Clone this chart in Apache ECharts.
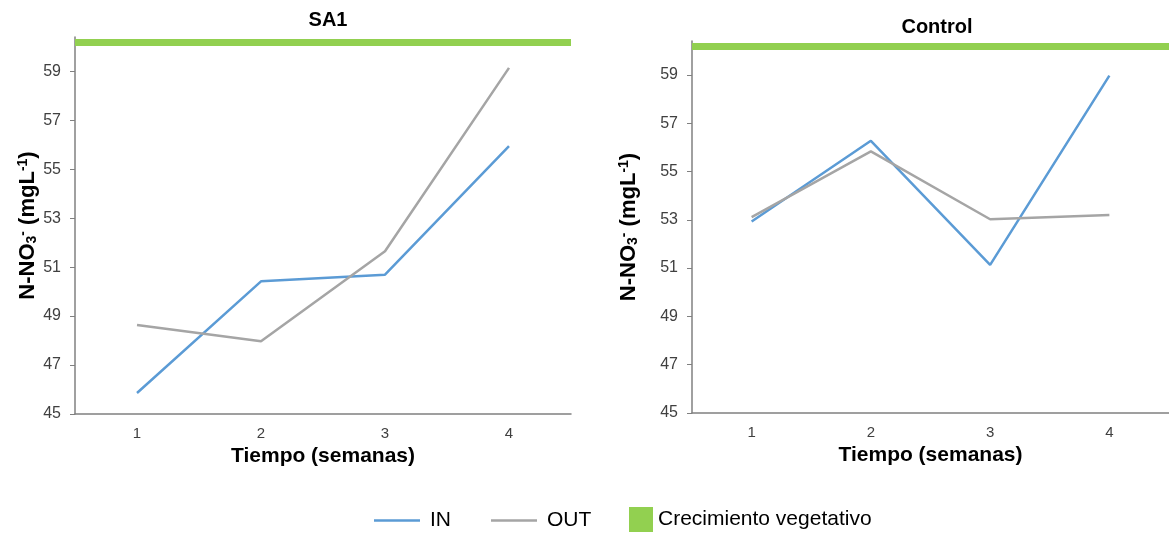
<!DOCTYPE html>
<html>
<head>
<meta charset="utf-8">
<script src="https://cdn.jsdelivr.net/npm/echarts@6/dist/echarts.min.js"></script>
<style>
  html, body { margin: 0; padding: 0; background: #fff; }
  #chart { width: 1169px; height: 537px; }
</style>
</head>
<body>
<div id="chart"></div>
<script>
  // weeks on the x axis
  var weeks = ['1', '2', '3', '4']
  // y ticks shown in the picture
  var yTicks = [45, 47, 49, 51, 53, 55, 57, 59]

  // SA1
  var sa1In = [45.86, 50.42, 50.69, 55.94]
  var sa1Out = [48.64, 47.97, 51.65, 59.14]
  // Control
  var ctrlIn = [52.93, 56.27, 51.13, 58.97]
  var ctrlOut = [53.11, 55.83, 53.02, 53.2]

  // vegetative growth phase marker, drawn at the top of each plot
  var phaseLevel = 60.2

  var blue = '#5b9bd5'
  var grey = '#a5a5a5'
  var green = '#92d050'
  var font = 'Liberation Sans, Arial, sans-serif'

  var chart = echarts.init(document.getElementById('chart'))

  var yName = '{b|N-NO}{sub|3}{sup|-}{b| (mgL}{sup|-1}{b|)}'
  var yRich = {
    b: { fontSize: 22, fontWeight: 'bold', color: '#000', fontFamily: font },
    sub: { fontSize: 14, fontWeight: 'bold', color: '#000', fontFamily: font, verticalAlign: 'bottom', padding: [9, 0, 0, 0] },
    sup: { fontSize: 14, fontWeight: 'bold', color: '#000', fontFamily: font, verticalAlign: 'top', padding: [0, 0, 9, 0] }
  }

  function xAxis(idx) {
    return {
      type: 'category',
      gridIndex: idx,
      data: weeks,
      boundaryGap: true,
      name: 'Tiempo (semanas)',
      nameLocation: 'middle',
      nameGap: 23,
      nameTextStyle: { fontSize: 21, fontWeight: 'bold', color: '#000', fontFamily: font },
      axisLine: { lineStyle: { color: '#808080', width: 1.5 } },
      axisTick: { alignWithLabel: true, inside: true, length: 4, lineStyle: { color: '#808080' } },
      axisLabel: { fontSize: 15, color: '#404040', margin: 12, fontFamily: font },
      splitLine: { show: false }
    }
  }

  function yAxis(idx, gap) {
    return {
      type: 'value',
      gridIndex: idx,
      min: 45,
      max: 60.4,
      name: yName,
      nameLocation: 'middle',
      nameGap: gap,
      nameRotate: 90,
      nameTextStyle: { rich: yRich },
      axisLine: { show: true, lineStyle: { color: '#808080', width: 1.5 } },
      axisTick: { show: true, length: 5, customValues: yTicks, lineStyle: { color: '#808080' } },
      axisLabel: { fontSize: 16, color: '#404040', margin: 14, customValues: yTicks, fontFamily: font },
      splitLine: { show: false }
    }
  }

  function lineSeries(name, idx, data, color) {
    return {
      name: name,
      type: 'line',
      xAxisIndex: idx,
      yAxisIndex: idx,
      data: data,
      symbol: 'none',
      color: color,
      lineStyle: { color: color, width: 2.5 }
    }
  }

  function phaseSeries(idx) {
    return {
      name: 'Crecimiento vegetativo',
      type: 'line',
      xAxisIndex: idx,
      yAxisIndex: idx,
      data: [],
      color: green,
      itemStyle: { color: green },
      markLine: {
        silent: true,
        symbol: ['none', 'none'],
        label: { show: false },
        lineStyle: { color: green, width: 7, type: 'solid' },
        data: [{ yAxis: phaseLevel }]
      }
    }
  }

  chart.setOption({
    animation: false,
    title: [
      { text: 'SA1', left: 323, top: 5, textAlign: 'center',
        textStyle: { fontSize: 20, fontWeight: 'bold', color: '#000', fontFamily: font } },
      { text: 'Control', left: 932, top: 12, textAlign: 'center',
        textStyle: { fontSize: 20, fontWeight: 'bold', color: '#000', fontFamily: font } }
    ],
    legend: [
      {
        data: [
          { name: 'IN', icon: 'rect', itemStyle: { color: blue } },
          { name: 'OUT', icon: 'rect', itemStyle: { color: grey } }
        ],
        left: 374,
        top: 510,
        padding: 0,
        itemWidth: 46,
        itemHeight: 2.5,
        itemGap: 40,
        textStyle: { fontSize: 21, color: '#000', fontFamily: font, padding: [0, 0, 0, 5] }
      },
      {
        data: [{ name: 'Crecimiento vegetativo', icon: 'rect', itemStyle: { color: green } }],
        left: 629,
        top: 507,
        padding: 0,
        itemWidth: 24,
        itemHeight: 25,
        textStyle: { fontSize: 21, color: '#000', fontFamily: font }
      }
    ],
    grid: [
      { left: 75, top: 37, width: 496, height: 377 },
      { left: 692, top: 41, width: 480, height: 372 }
    ],
    xAxis: [xAxis(0), xAxis(1)],
    yAxis: [yAxis(0, 36), yAxis(1, 52)],
    series: [
      lineSeries('IN', 0, sa1In, blue),
      lineSeries('OUT', 0, sa1Out, grey),
      phaseSeries(0),
      lineSeries('IN', 1, ctrlIn, blue),
      lineSeries('OUT', 1, ctrlOut, grey),
      phaseSeries(1)
    ]
  })
</script>
</body>
</html>
